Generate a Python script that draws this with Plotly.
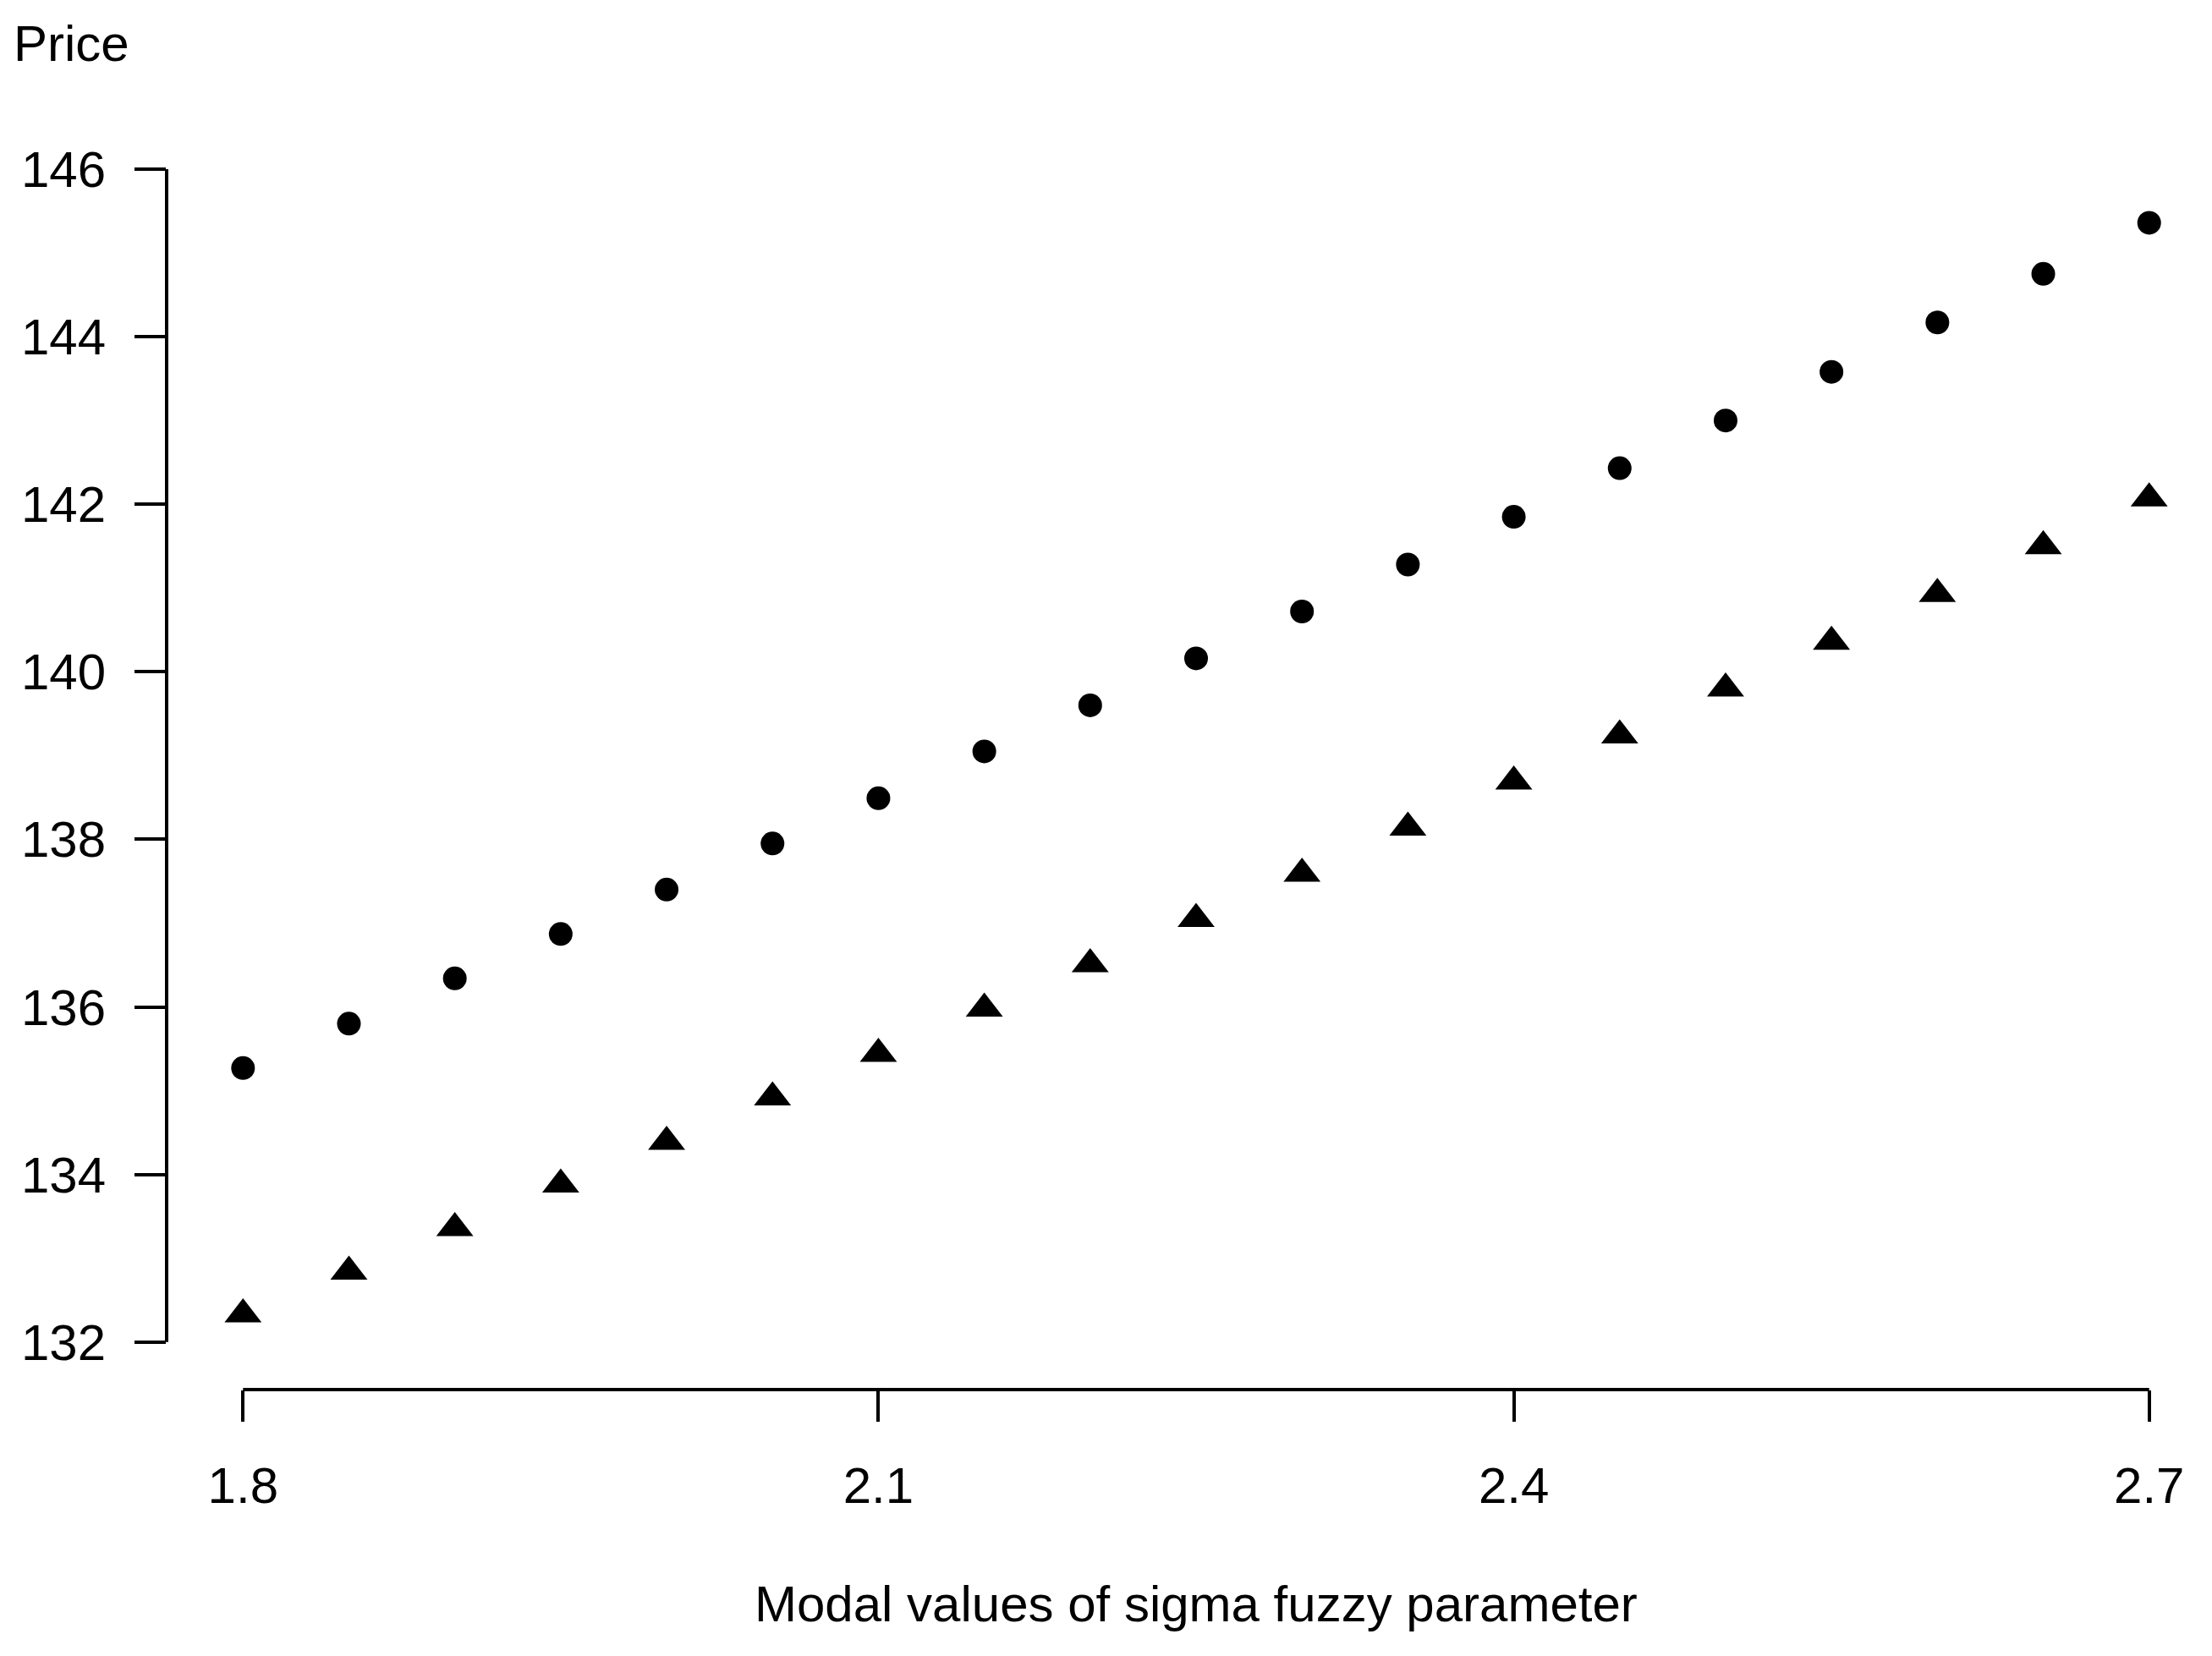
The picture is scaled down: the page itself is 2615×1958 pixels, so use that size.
import plotly.graph_objects as go

# modal values of sigma
sigma = [1.8, 1.85, 1.9, 1.95, 2.0, 2.05, 2.1, 2.15, 2.2, 2.25,
         2.3, 2.35, 2.4, 2.45, 2.5, 2.55, 2.6, 2.65, 2.7]

# upper series (filled circles)
price_upper = [135.27, 135.80, 136.34, 136.87, 137.40, 137.95, 138.49, 139.05, 139.60, 140.16,
               140.72, 141.28, 141.85, 142.43, 143.00, 143.58, 144.17, 144.75, 145.36]

# lower series (filled triangles)
price_lower = [132.33, 132.84, 133.36, 133.88, 134.39, 134.92, 135.44, 135.98, 136.51, 137.05,
               137.59, 138.14, 138.69, 139.24, 139.80, 140.36, 140.93, 141.50, 142.07]

x_ticks = [1.8, 2.1, 2.4, 2.7]
x_ticktext = ['1.8', '2.1', '2.4', '2.7']
y_ticks = [132, 134, 136, 138, 140, 142, 144, 146]

W, H = 2615, 1958
OFF = 8  # page body margin, figure is drawn 8px in from the corner
L, R, T, B = 197 - OFF, 0, 100 - OFF, H - (1643 - OFF)
FONT = 'Liberation Sans, Arial, sans-serif'
FS = 60

# pixel scale
x_px_unit = 2503.8
y_px_unit = 99.05
x_lo = 1.8 - (287.3 - 197) / x_px_unit
x_hi = x_lo + (W - L - R) / x_px_unit
y_lo = 132 - (1643 - 1586.7) / y_px_unit
y_hi = y_lo + (H - T - B) / y_px_unit


def paper_x(px):
    # px measured on the page
    return (px - OFF - L) / (W - L - R)


def paper_y(py):
    return ((H - B) - (py - OFF)) / (H - T - B)


fig = go.Figure()
fig.add_trace(go.Scatter(
    x=sigma, y=price_upper, mode='markers',
    marker=dict(symbol='circle', size=28, color='black'),
    cliponaxis=False, showlegend=False,
))
fig.add_trace(go.Scatter(
    x=sigma, y=price_lower, mode='markers',
    marker=dict(symbol='triangle-up', size=38, color='black'),
    cliponaxis=False, showlegend=False,
))

axis_common = dict(
    showgrid=False, zeroline=False, showline=False,
    ticks='outside', ticklen=37, tickwidth=4, tickcolor='black',
    tickfont=dict(family=FONT, size=FS, color='black'),
    automargin=False, fixedrange=True,
)

fig.update_layout(
    width=W, height=H,
    margin=dict(l=L, r=R, t=T, b=B, pad=0),
    paper_bgcolor='white', plot_bgcolor='white',
    font=dict(family=FONT, size=FS, color='black'),
    xaxis=dict(range=[x_lo, x_hi], tickvals=x_ticks, ticktext=x_ticktext,
               ticklabelstandoff=24, **axis_common),
    yaxis=dict(range=[y_lo, y_hi], tickvals=y_ticks,
               ticklabelstandoff=22, **axis_common),
    shapes=[
        dict(type='line', xref='x', yref='paper', x0=x_ticks[0], x1=x_ticks[-1], y0=0, y1=0,
             line=dict(color='black', width=4)),
        dict(type='line', xref='paper', yref='y', x0=0, x1=0, y0=y_ticks[0], y1=y_ticks[-1],
             line=dict(color='black', width=4)),
    ],
    annotations=[
        dict(text='Price', xref='paper', yref='paper', x=paper_x(14), y=paper_y(51.5),
             xanchor='left', yanchor='middle', showarrow=False,
             font=dict(family=FONT, size=FS, color='black')),
        dict(text='Modal values of sigma fuzzy parameter', xref='paper', yref='paper',
             x=paper_x(1414), y=paper_y(1896.5), xanchor='center', yanchor='middle',
             showarrow=False, font=dict(family=FONT, size=FS, color='black')),
    ],
)

fig.write_html('out.html')
